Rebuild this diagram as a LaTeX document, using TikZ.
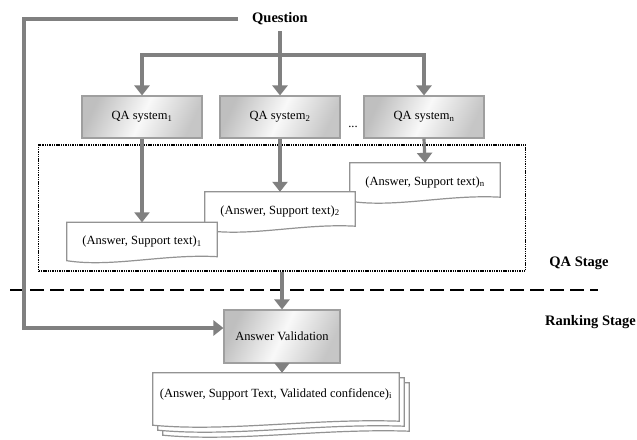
\documentclass[tikz,border=0pt]{standalone}
\usepackage{fontspec}
\setmainfont{Liberation Serif}
\usetikzlibrary{arrows.meta,calc}
\pgfdeclarelayer{background}
\pgfsetlayers{background,main}
\newcommand\docshape[2]{%
  \begin{pgfonlayer}{background}
  \draw[docline] (#1.north west) -- (#1.north east) -- ([yshift=4pt]#1.south east)
    .. controls +({-0.35*#2},-3) and +({0.3*#2},7) .. (#1.south west) -- cycle;
  \end{pgfonlayer}}
\begin{document}
\begin{tikzpicture}[x=1pt,y=-1pt,
  conn/.style={draw=gray,line width=3.2pt},
  arr/.style={conn,-{Triangle[width=15pt,length=10pt]}},
  txt/.style={font=\fontsize{12.5}{14}\selectfont},
  sysbox/.style={txt,draw=gray!75,line width=1.1pt,left color=gray!50,
    right color=gray!45,middle color=gray!5,shading angle=65,minimum width=120pt,minimum height=42pt,inner sep=0pt},
  docbox/.style={txt,minimum width=150pt,minimum height=38pt,inner sep=0pt},
  docline/.style={draw=gray!85,line width=1.2pt,fill=white},
  stage/.style={font=\fontsize{14.5}{16}\selectfont\bfseries,inner sep=0pt}
]
\useasboundingbox (0,0) rectangle (637,439);

% dotted QA stage frame and stage separator
\node[draw=black,line width=1.4pt,dash pattern=on 1.4pt off 0.9pt,
      minimum width=487pt,minimum height=126pt,inner sep=0pt] (qastage) at (282,208) {};
\coordinate (dl) at (10,290);
\coordinate (dr) at (598,290);
\draw[black,line width=2.4pt,dash pattern=on 14pt off 6pt] (dl) -- (dr);

% nodes
\node[stage,text height=10pt,text depth=3pt,inner xsep=14pt,inner ysep=5.5pt] (question) at (280,19) {Question};
\node[sysbox] (qa1) at (142,117) {QA system\textsubscript{1}};
\node[sysbox] (qa2) at (280,117) {QA system\textsubscript{2}};
\node[sysbox] (qan) at (424,117) {QA system\textsubscript{n}};
\node[txt,anchor=base,inner sep=0pt] (dots) at (353,127) {...};

\node[docbox] (dn) at (425,182) {(Answer, Support text)\textsubscript{n}};
\docshape{dn}{150}
\node[docbox] (d2) at (280,211) {(Answer, Support text)\textsubscript{2}};
\docshape{d2}{150}
\node[docbox] (d1) at (142,241.5) {(Answer, Support text)\textsubscript{1}};
\docshape{d1}{150}

\node[sysbox,minimum width=116pt,minimum height=53pt] (av) at (282,336.5) {Answer Validation};

\node[docbox,minimum width=246pt,minimum height=52pt] (out3) at (286,409) {};
\docshape{out3}{246}
\node[docbox,minimum width=246pt,minimum height=52pt] (out2) at (281,404) {};
\docshape{out2}{246}
\node[docbox,minimum width=246pt,minimum height=52pt,text height=8pt,text depth=12pt] (out) at (276,399)
  {(Answer, Support Text, Validated confidence)\textsubscript{i}};
\docshape{out}{246}

\node[stage] (qalabel) at (579,263) {QA Stage};
\node[stage,anchor=west] (rklabel) at (545,322) {Ranking Stage};

% connectors
\coordinate (bus) at (280,55);
\coordinate (fb) at (24,328);
\draw[arr] (question.south) -- (bus) -| (qa1.north);
\draw[arr] (bus) -| (qan.north);
\draw[arr] (bus) -- (qa2.north);
\draw[arr] (question.west) -| (fb) -- (av.west |- fb);
\draw[arr] (qa1.south) -- (d1.north);
\draw[arr] (qa2.south) -- (d2.north);
\draw[arr] (qan.south) -- (dn.north);
\draw[arr] (qastage.south) -- (av.north);
\draw[arr] (av.south) -- (av.south |- out.north);
\end{tikzpicture}
\end{document}
